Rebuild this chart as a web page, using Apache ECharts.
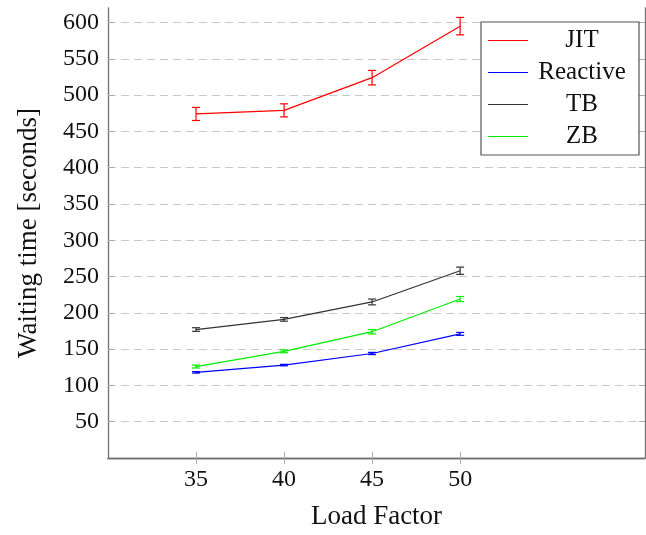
<!DOCTYPE html>
<html>
<head>
<meta charset="utf-8">
<script src="https://cdn.jsdelivr.net/npm/echarts@6/dist/echarts.min.js"></script>
<style>
  html, body { margin: 0; padding: 0; background: #fff; }
  #main { width: 646px; height: 535px; }
</style>
</head>
<body>
<div id="main"></div>
<script>
var loadFactors = [35, 40, 45, 50];
var seriesNames = ['JIT', 'Reactive', 'TB', 'ZB'];
var jitMean = [474, 479, 524, 595];
var jitErr = [9, 9, 10, 12];
var reactiveMean = [118, 128, 144, 171];
var reactiveErr = [1, 1, 1.5, 2];
var tbMean = [177, 191, 215, 258];
var tbErr = [2.5, 2.5, 4, 5];
var zbMean = [126, 147, 174, 219];
var zbErr = [2, 2, 3, 3.5];
var yTicks = [50, 100, 150, 200, 250, 300, 350, 400, 450, 500, 550, 600];

var colors = ['#ff0000', '#0000ff', '#333333', '#00ee00'];
var means = [jitMean, reactiveMean, tbMean, zbMean];
var errs = [jitErr, reactiveErr, tbErr, zbErr];
var font = '"Liberation Serif", "DejaVu Serif", serif';

var chart = echarts.init(document.getElementById('main'));

// vertical error bar with caps, drawn through the axes
function errorBar(color) {
    return function (params, api) {
        var x = api.value(0);
        var lo = api.coord([x, api.value(1)]);
        var hi = api.coord([x, api.value(2)]);
        var hw = 4;
        var st = { stroke: color, lineWidth: 1.2 };
        return {
            type: 'group',
            children: [
                { type: 'line', shape: { x1: lo[0], y1: lo[1], x2: hi[0], y2: hi[1] }, style: st },
                { type: 'line', shape: { x1: lo[0] - hw, y1: lo[1], x2: lo[0] + hw, y2: lo[1] }, style: st },
                { type: 'line', shape: { x1: hi[0] - hw, y1: hi[1], x2: hi[0] + hw, y2: hi[1] }, style: st }
            ]
        };
    };
}

var series = [];
for (var i = 0; i < seriesNames.length; i++) {
    var lineData = [], barData = [];
    for (var j = 0; j < loadFactors.length; j++) {
        lineData.push([loadFactors[j], means[i][j]]);
        barData.push([loadFactors[j], means[i][j] - errs[i][j], means[i][j] + errs[i][j]]);
    }
    series.push({
        name: seriesNames[i],
        type: 'line',
        data: lineData,
        symbol: 'none',
        color: colors[i],
        lineStyle: { width: 1.2, color: colors[i] },
        z: 3
    });
    series.push({
        name: seriesNames[i] + ' err',
        type: 'custom',
        data: barData,
        renderItem: errorBar(colors[i]),
        z: 4
    });
}

var axisLineStyle = { color: '#707070', width: 1.3 };

chart.setOption({
    animation: false,
    textStyle: { fontFamily: font },
    grid: { left: 108, top: 8, right: 1, bottom: 70, containLabel: false },
    legend: {
        data: seriesNames,
        orient: 'vertical',
        left: 481,
        top: 22,
        backgroundColor: '#fff',
        borderColor: '#555',
        borderWidth: 1.2,
        padding: [6, 8, 6, 7],
        itemWidth: 40,
        itemHeight: 14,
        itemGap: 7,
        icon: 'path://M0,0 L40,0 L40,1 L0,1 Z',
        formatter: function (n) { return '{t|' + n + '}'; },
        textStyle: {
            fontFamily: font,
            fontSize: 25,
            color: '#111',
            rich: { t: { width: 98, align: 'center', fontSize: 25, lineHeight: 24, fontFamily: font, color: '#111' } }
        }
    },
    xAxis: [{
        type: 'value',
        min: 30,
        max: 60.5,
        interval: 5,
        name: 'Load Factor',
        nameLocation: 'middle',
        nameGap: 45,
        nameTextStyle: { fontFamily: font, fontSize: 27, color: '#111' },
        axisLine: { lineStyle: axisLineStyle },
        axisTick: { inside: true, length: 6, customValues: loadFactors, lineStyle: { color: '#aaa' } },
        axisLabel: { customValues: loadFactors, margin: 10, fontFamily: font, fontSize: 24, color: '#111' },
        splitLine: { show: false }
    }, {
        type: 'value',
        position: 'top',
        min: 30,
        max: 60.5,
        interval: 5,
        axisLine: { show: true, lineStyle: axisLineStyle },
        axisTick: { inside: true, length: 6, customValues: loadFactors, lineStyle: { color: '#aaa' } },
        axisLabel: { show: false },
        splitLine: { show: false }
    }],
    yAxis: [{
        type: 'value',
        min: 0,
        max: 620,
        interval: 50,
        name: 'Waiting time [seconds]',
        nameLocation: 'middle',
        nameGap: 66,
        nameTextStyle: { fontFamily: font, fontSize: 27, color: '#111' },
        axisLine: { show: true, lineStyle: axisLineStyle },
        axisTick: { inside: true, length: 6, customValues: yTicks, lineStyle: { color: '#aaa' } },
        axisLabel: { customValues: yTicks, margin: 9, fontFamily: font, fontSize: 24, color: '#111' },
        splitLine: { show: true, lineStyle: { color: '#c8c8c8', type: [8, 5], width: 1.2 } }
    }, {
        type: 'value',
        position: 'right',
        min: 0,
        max: 620,
        interval: 50,
        axisLine: { show: true, lineStyle: axisLineStyle },
        axisTick: { inside: true, length: 6, customValues: yTicks, lineStyle: { color: '#aaa' } },
        axisLabel: { show: false },
        splitLine: { show: false }
    }],
    series: series
});
</script>
</body>
</html>
